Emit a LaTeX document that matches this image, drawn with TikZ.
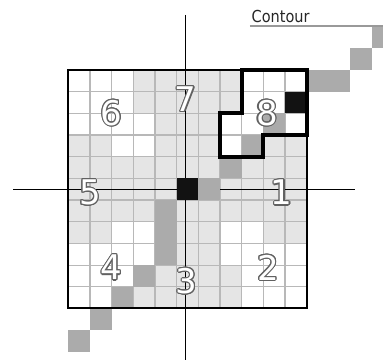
\documentclass[tikz,border=0pt]{standalone}
\usepackage{fontspec}
\usepackage{contour}
\usetikzlibrary{positioning}
\setmainfont{DejaVu Sans}
\newfontfamily\labelfont[FakeStretch=0.88]{DejaVu Sans}
\definecolor{tone0}{gray}{1}
\definecolor{tone1}{gray}{0.9}
\definecolor{pathgray}{gray}{0.67}
\definecolor{gridgray}{gray}{0.72}
\definecolor{rulegray}{gray}{0.6}
\contourlength{1.1pt}
\newcommand{\numlabel}[1]{\contour{black!62}{\textcolor{white}{#1}}}

\begin{document}
\begin{tikzpicture}[x=21.67pt, y=-21.67pt,
    gridline/.style={draw=gridgray, line width=1.1pt},
    axisline/.style={draw=black, line width=1.2pt},
    pathcell/.style={fill=pathgray},
    hitcell/.style={fill=black!93},
    digit/.style={font=\fontsize{34}{34}\selectfont, inner sep=0pt},
    contourline/.style={draw=black, line width=3.8pt, line join=miter}]
  \useasboundingbox (-3.152,-3.23) rectangle (14.52,13.38);
  \foreach \rowmap [count=\r from 0] in {
      {0,0,0,1,1,1,1,1,0,0,0},
      {0,0,0,1,1,1,1,1,0,0,0},
      {0,0,0,0,1,1,1,0,0,0,0},
      {1,1,0,0,1,1,1,0,1,1,1},
      {1,1,1,1,1,1,1,1,1,1,1},
      {1,1,1,1,1,1,1,1,1,1,1},
      {1,1,1,1,1,1,1,1,1,1,1},
      {1,1,0,0,1,1,1,0,0,1,1},
      {0,0,0,0,1,1,1,0,0,0,0},
      {0,0,0,1,1,1,1,1,0,0,0},
      {0,0,1,1,1,1,1,1,0,0,0}}
    \foreach \v [count=\c from 0] in \rowmap
      \fill[fill=tone\v] (\c,\r) rectangle +(1,1);
  \foreach \i in {0,...,11}
    \draw[gridline] (\i,0) -- (\i,11) (0,\i) -- (11,\i);

  \coordinate (vtop) at (5.42,-2.54);
  \coordinate (vbot) at (5.42,13.4);
  \coordinate (hleft) at (-2.55,5.5);
  \coordinate (hright) at (13.23,5.5);
  \draw[axisline] (vtop) -- (vbot);
  \draw[axisline] (hleft) -- (hright);

  \foreach \c/\r in {6/5,7/4,8/3,9/2,11/0,12/0,13/-1,14/-2,4/6,4/7,4/8,3/9,2/10,1/11,0/12}
    \fill[pathcell] (\c,\r) rectangle +(1,1);
  \foreach \c/\r in {5/5,10/1}
    \fill[hitcell] (\c,\r) rectangle +(1,1);
  \draw[line width=2pt] (0,0) rectangle (11,11);
  \draw[contourline] (8,0) -- (11,0) -- (11,3) -- (9,3) -- (9,4) -- (7,4) -- (7,2) -- (8,2) -- cycle;

  \node[digit] (n6) at (2.0,2.0) {\numlabel{6}};
  \node[digit] (n7) at (5.42,1.38) {\numlabel{7}};
  \node[digit] (n8) at (9.16,2.0) {\numlabel{8}};
  \node[digit] (n5) at (1.0,5.68) {\numlabel{5}};
  \node[digit] (n1) at (9.85,5.68) {\numlabel{1}};
  \node[digit] (n4) at (2.0,9.14) {\numlabel{4}};
  \node[digit] (n3) at (5.46,9.77) {\numlabel{3}};
  \node[digit] (n2) at (9.23,9.14) {\numlabel{2}};

  \node[anchor=base west, inner sep=0pt, text=black!85,
        font=\labelfont\fontsize{16.5}{16.5}\selectfont] (lbl) at (8.45,-2.17) {Contour};
  \coordinate (ulstart) at (8.38,-2.03);
  \coordinate (ulend) at (14.6,-2.03);
  \draw[rulegray, line width=1.3pt] (ulstart) -- (ulend);
\end{tikzpicture}
\end{document}
